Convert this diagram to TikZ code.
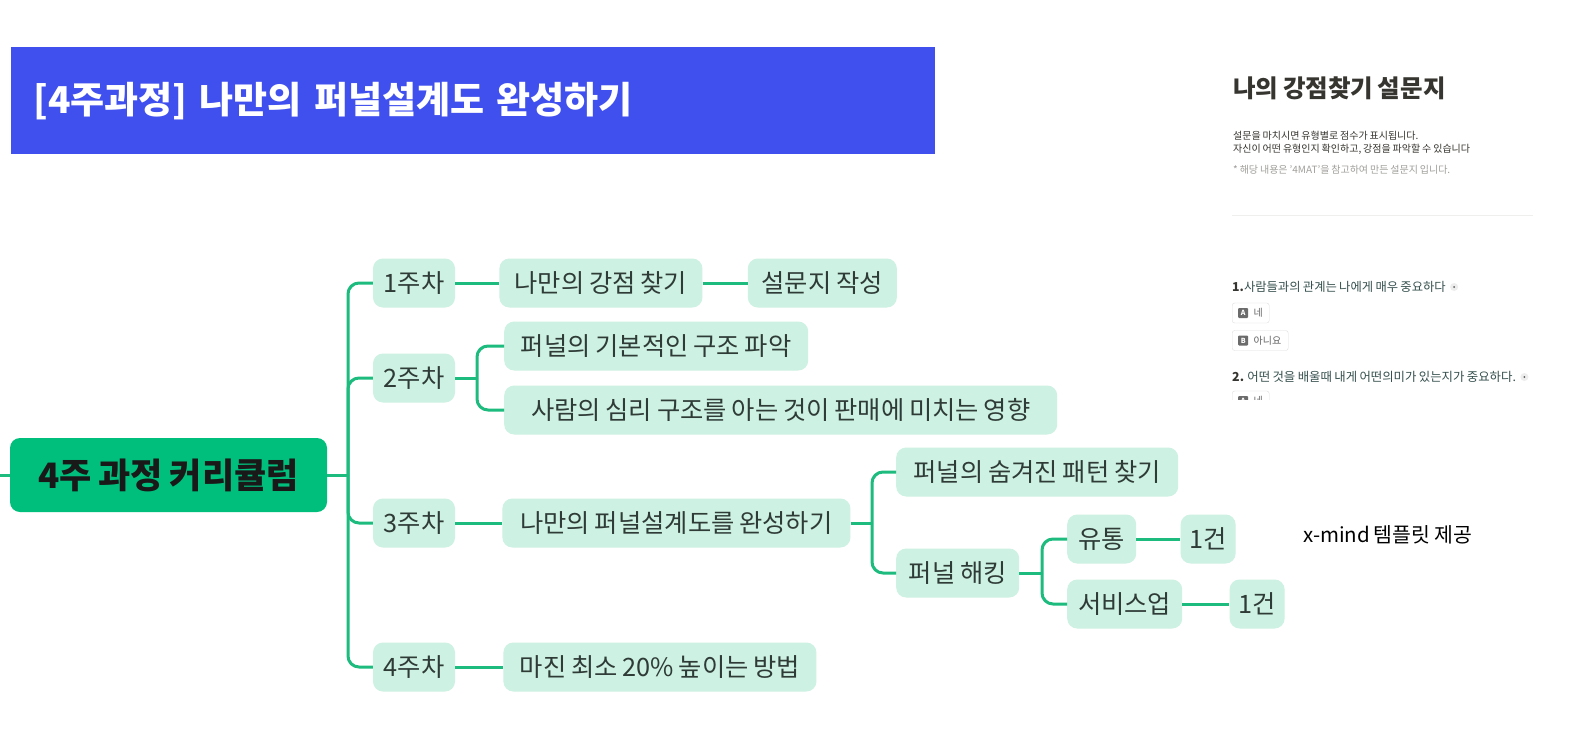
\documentclass[tikz,border=0pt]{standalone}
\usepackage{fontspec}
\setmainfont{Noto Sans CJK KR}[WordSpace=0.85]
\usetikzlibrary{positioning}
\definecolor{Banner}{HTML}{4050EE}
\definecolor{Root}{HTML}{00BF7C}
\definecolor{Leaf}{HTML}{CDF1E2}
\definecolor{Branch}{HTML}{1DBC7E}
\definecolor{LeafText}{HTML}{2F3B37}
\definecolor{Ink}{HTML}{37352F}
\definecolor{Faint}{HTML}{A09F9B}
\definecolor{Rule}{HTML}{EFEFEE}
\definecolor{Quest}{HTML}{35504D}

\tikzset{
  leaf/.style={rounded corners=10pt, fill=Leaf, text=LeafText, inner xsep=6pt, minimum height=49pt, font=\fontsize{25.3}{29}\selectfont},
  week/.style={leaf, minimum width=82pt},
  link/.style={draw=Branch, line width=3pt, rounded corners=11pt},
  note/.style={anchor=west, inner sep=0pt, text=Ink},
  choice/.style={draw=black!13, fill=white, rounded corners=2.5pt, minimum height=20pt, inner xsep=0pt, anchor=west},
  letter/.style={fill=black!58, text=white, rounded corners=1pt, minimum size=10pt, inner sep=0pt, font=\fontsize{7}{7}\selectfont\bfseries},
  answer/.style={inner sep=0pt, text=black!60, font=\fontsize{10}{12}\selectfont},
  reqdot/.style={circle, fill=black!7, minimum size=8pt, inner sep=0pt}
}

\begin{document}
\begin{tikzpicture}[x=1pt, y=-1pt]
\fill[white] (0,0) rectangle (1590,736);
\useasboundingbox (0,0) rectangle (1590,736);

\node[fill=Banner, anchor=north west, minimum width=924pt, minimum height=107pt, text width=880pt, inner xsep=22pt, align=left, text=white, font=\fontsize{37}{42}\selectfont\bfseries] (banner) at (11,47) {[4주과정] 나만의 퍼널설계도 완성하기};

\node[fill=Root, rounded corners=10pt, minimum width=317pt, minimum height=74pt, text=black!90, font=\fontsize{35}{40}\selectfont\bfseries] (root) at (168.5,475) {4주 과정 커리큘럼};

\node[week] (w1) at (414,283) {1주차};
\node[week] (w2) at (414,378) {2주차};
\node[week] (w3) at (414,523) {3주차};
\node[week] (w4) at (414,667) {4주차};

\node[leaf, minimum width=203pt, right=44pt of w1] (s1) {나만의 강점 찾기};
\node[leaf, minimum width=149pt, right=45pt of s1] (s1b) {설문지 작성};
\node[leaf, minimum width=304pt, anchor=west] (s2a) at (504,346) {퍼널의 기본적인 구조 파악};
\node[leaf, minimum width=553pt, anchor=west] (s2b) at (504,410) {사람의 심리 구조를 아는 것이 판매에 미치는 영향};
\node[leaf, minimum width=348pt, right=47pt of w3] (s3) {나만의 퍼널설계도를 완성하기};
\node[leaf, minimum width=282pt, anchor=west] (s3a) at (896,472) {퍼널의 숨겨진 패턴 찾기};
\node[leaf, minimum width=123pt, anchor=west] (s3b) at (896,573) {퍼널 해킹};
\node[leaf, minimum width=69pt, anchor=west] (s3c) at (1067,539) {유통};
\node[leaf, minimum width=55pt, right=44pt of s3c] (s3d) {1건};
\node[leaf, minimum width=115pt, anchor=west] (s3e) at (1067,604) {서비스업};
\node[leaf, minimum width=55pt, right=47pt of s3e] (s3f) {1건};
\node[leaf, minimum width=313pt, right=48pt of w4] (s4) {마진 최소 20\% 높이는 방법};

\coordinate (lead) at (0,475);
\coordinate (trunk) at (348,475);
\coordinate (j2) at (477,378);
\coordinate (j3) at (872,523);
\coordinate (j4) at (1042,573);

\draw[link] (lead) -- (root.west);
\draw[link] (root.east) -- (trunk);
\foreach \w in {w1,w2,w3,w4}
  \draw[link] (trunk) |- (\w.west);
\draw[link] (w1) -- (s1);
\draw[link] (s1) -- (s1b);
\draw[link] (w2) -- (j2);
\draw[link] (j2) |- (s2a.west);
\draw[link] (j2) |- (s2b.west);
\draw[link] (w3) -- (s3);
\draw[link] (s3) -- (j3);
\draw[link] (j3) |- (s3a.west);
\draw[link] (j3) |- (s3b.west);
\draw[link] (s3b) -- (j4);
\draw[link] (j4) |- (s3c.west);
\draw[link] (j4) |- (s3e.west);
\draw[link] (s3c) -- (s3d);
\draw[link] (s3e) -- (s3f);
\draw[link] (w4) -- (s4);

% survey page
\node[note, font=\fontsize{24.5}{28}\selectfont\bfseries] (stitle) at (1233,88) {나의 강점찾기 설문지};
\node[note, font=\fontsize{10}{12}\selectfont] (sline1) at (1233,136) {설문을 마치시면 유형별로 점수가 표시됩니다.};
\node[note, font=\fontsize{10}{12}\selectfont] (sline2) at (1233,149) {자신이 어떤 유형인지 확인하고, 강점을 파악할 수 있습니다};
\node[note, text=Faint, font=\fontsize{10}{12}\selectfont] (sline3) at (1233,170) {* 해당 내용은 '4MAT'을 참고하여 만든 설문지 입니다.};
\draw[Rule, line width=1pt] (1232,215) -- (1533,215);

\node[note, text=Quest, font=\fontsize{12.3}{14}\selectfont] (q1) at (1232,287) {\textcolor{Ink}{\bfseries 1.}사람들과의 관계는 나에게 매우 중요하다};
\node[reqdot, right=4pt of q1] (req1) {};
\fill[black!65] (req1) circle (1pt);
\node[choice, minimum width=37pt] (optA) at (1232,313) {};
\node[letter, right=6pt of optA.west] (keyA) {A};
\node[answer, right=5pt of keyA] (ansA) {네};
\node[choice, minimum width=56pt] (optB) at (1232,340.5) {};
\node[letter, right=6pt of optB.west] (keyB) {B};
\node[answer, right=5pt of keyB] (ansB) {아니요};

\node[note, text=Quest, font=\fontsize{12.4}{14}\selectfont] (q2) at (1232,377) {\textcolor{Ink}{\bfseries 2.} 어떤 것을 배울때 내게 어떤의미가 있는지가 중요하다.};
\node[reqdot, right=4pt of q2] (req2) {};
\fill[black!65] (req2) circle (1pt);
\begin{scope}
\clip (1200,385) rectangle (1560,399);
\node[choice, minimum width=37pt] (optC) at (1232,401) {};
\node[letter, right=6pt of optC.west] (keyC) {A};
\node[answer, right=5pt of keyC] (ansC) {네};
\end{scope}

\node[note, text=black, font=\fontsize{20.5}{24}\selectfont] (xmind) at (1303,535) {x-mind 템플릿 제공};
\end{tikzpicture}
\end{document}
